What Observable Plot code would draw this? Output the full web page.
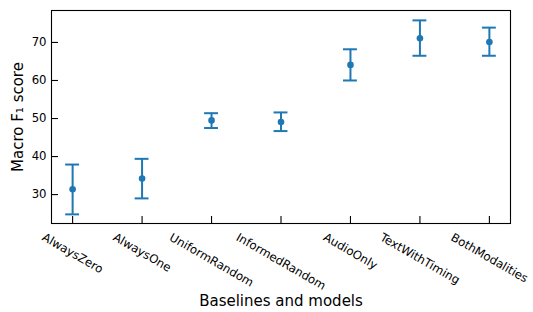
<!DOCTYPE html>
<html><head><meta charset="utf-8">
<script src="https://cdn.jsdelivr.net/npm/d3@7"></script>
<script src="https://cdn.jsdelivr.net/npm/@observablehq/plot@0.6"></script>
<style>body{margin:0;background:#fff}</style>
</head><body><div id="chart"></div>
<script>
const models = ["AlwaysZero","AlwaysOne","UniformRandom","InformedRandom","AudioOnly","TextWithTiming","BothModalities"];
const meanF1 = [31.4, 34.2, 49.5, 49.1, 64.1, 71.1, 70.1];
const lowF1  = [24.8, 29.0, 47.5, 46.7, 60.0, 66.5, 66.5];
const highF1 = [37.9, 39.4, 51.4, 51.6, 68.2, 75.8, 73.9];
const yTicks = [30, 40, 50, 60, 70];
const xLabel = "Baselines and models";
const yLabel = "Macro F₁ score";

const data = models.map((m, i) => ({model: m, mean: meanF1[i], low: lowF1[i], high: highF1[i]}));
const blue = "#1f77b4";
const tickFont = 11.7;

const plot = Plot.plot({
  width: 533, height: 312,
  marginLeft: 51, marginRight: 23, marginTop: 10, marginBottom: 89,
  style: {fontFamily: "DejaVu Sans", fontSize: tickFont + "px", color: "#000", background: "#fff"},
  x: {type: "band", domain: models, paddingInner: 0.8, paddingOuter: 0.204, round: false},
  y: {domain: [22.4, 78.4]},
  marks: [
    Plot.frame({stroke: "#000", strokeWidth: 1.1}),
    Plot.axisY(yTicks, {tickSize: -7, tickPadding: 12, label: null, strokeWidth: 1.1}),
    Plot.axisX({tickSize: -7, tickPadding: 14, tickRotate: 30, textAnchor: "middle", lineAnchor: "middle", label: null, strokeWidth: 1.1}),
    Plot.ruleX(data, {x: "model", y1: "low", y2: "high", stroke: blue, strokeWidth: 2}),
    Plot.tickY(data, {x: "model", y: "low", stroke: blue, strokeWidth: 2}),
    Plot.tickY(data, {x: "model", y: "high", stroke: blue, strokeWidth: 2}),
    Plot.dot(data, {x: "model", y: "mean", r: 3.3, fill: blue, stroke: null}),
    Plot.text([xLabel], {text: d => d, frameAnchor: "bottom", textAnchor: "middle", lineAnchor: "middle", dy: 78, fontSize: 15}),
    Plot.text([yLabel], {text: d => d, frameAnchor: "left", textAnchor: "middle", lineAnchor: "middle", rotate: -90, dx: -33, fontSize: 15})
  ]
});
document.getElementById("chart").append(plot);
const g = plot.querySelector('g[aria-label="x-axis tick label"]');
if (g) {
  g.querySelectorAll("text").forEach(t => {
    const L = t.getComputedTextLength();
    const s = (L * 0.5 + 1.16 * tickFont * 0.866) / 2;
    t.setAttribute("text-anchor", "middle");
    t.setAttribute("transform", `translate(0,${s}) ` + (t.getAttribute("transform") || ""));
  });
}
</script>
</body></html>
